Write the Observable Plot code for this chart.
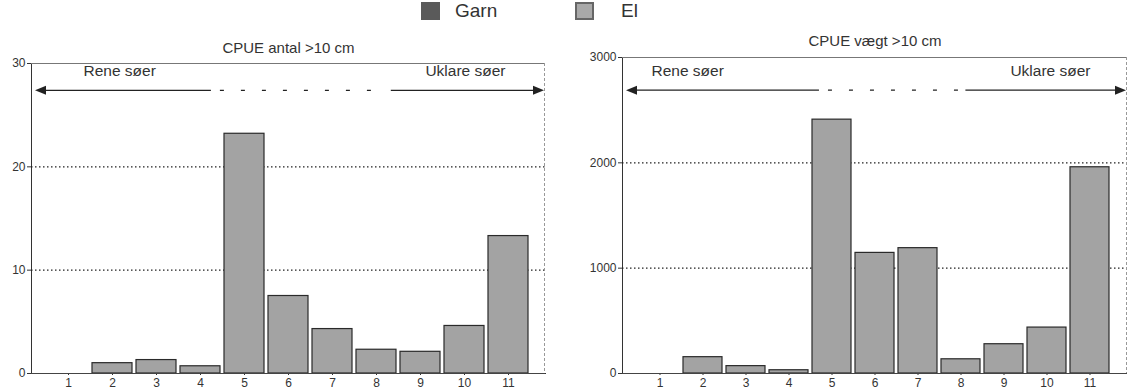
<!DOCTYPE html>
<html>
<head>
<meta charset="utf-8">
<script src="https://cdn.jsdelivr.net/npm/d3@7"></script>
<script src="https://cdn.jsdelivr.net/npm/@observablehq/plot@0.6"></script>
<style>
  html, body { margin: 0; padding: 0; background: white; }
  body { width: 1127px; height: 392px; overflow: hidden; font-family: "Liberation Sans", Arial, sans-serif; }
  #legend { position: relative; height: 24px; width: 1127px; }
  .sw { position: absolute; top: 2px; width: 19px; height: 18px; box-sizing: border-box; }
  .lt { position: absolute; top: 0px; font-size: 19px; color: #333; line-height: 22px; }
  #row { display: flex; }
  #row svg { display: block; }
</style>
</head>
<body>
<div id="legend">
  <div class="sw" style="left:421px;background:#5a5a5a;"></div>
  <div class="lt" style="left:455px;">Garn</div>
  <div class="sw" style="left:575px;background:#a9a9a9;border:2px solid #666;"></div>
  <div class="lt" style="left:621px;">El</div>
</div>
<div id="row"></div>
<script>
// ---- data ----
const lakes = [1, 2, 3, 4, 5, 6, 7, 8, 9, 10, 11];
const cpueAntal = [0, 1.0, 1.3, 0.7, 23.2, 7.5, 4.3, 2.3, 2.1, 4.6, 13.3];
const cpueVaegt = [0, 155, 70, 31, 2410, 1145, 1190, 135, 278, 436, 1958];
const antalTicks = [0, 10, 20, 30];
const vaegtTicks = [0, 1000, 2000, 3000];
const titles = ["CPUE antal >10 cm", "CPUE vægt >10 cm"];
const leftLabel = "Rene søer";
const rightLabel = "Uklare søer";

const font = "'Liberation Sans', Arial, sans-serif";

function decor(cfg) {
  return (index, scales, values, dimensions) => {
    const {width, height, marginLeft, marginRight, marginTop, marginBottom} = dimensions;
    const x0 = marginLeft, x1 = width - marginRight;
    const y0 = marginTop, y1 = height - marginBottom;
    const g = d3.create("svg:g");
    g.append("line").attr("x1", x0).attr("x2", x1).attr("y1", y0 + 0.5).attr("y2", y0 + 0.5)
      .attr("stroke", "#777").attr("stroke-width", 1.2);
    g.append("line").attr("x1", x1 - 0.5).attr("x2", x1 - 0.5).attr("y1", y0).attr("y2", y1)
      .attr("stroke", "#999").attr("stroke-dasharray", "3,2");
    const ay = y0 + (y1 - y0) * cfg.arrowFrac;
    const ax0 = x0 + 4, ax1 = x1 - 1;
    const w = x1 - x0;
    const d0 = x0 + w * cfg.dashFrom, d1 = x0 + w * cfg.dashTo;
    g.append("line").attr("x1", ax0 + 8).attr("x2", d0).attr("y1", ay).attr("y2", ay)
      .attr("stroke", "#222").attr("stroke-width", 1.3);
    g.append("line").attr("x1", d0 + 9).attr("x2", d1 - 4).attr("y1", ay).attr("y2", ay)
      .attr("stroke", "#222").attr("stroke-width", 1.3).attr("stroke-dasharray", "4,17");
    g.append("line").attr("x1", d1).attr("x2", ax1 - 8).attr("y1", ay).attr("y2", ay)
      .attr("stroke", "#222").attr("stroke-width", 1.3);
    g.append("path").attr("d", `M${ax0},${ay}L${ax0 + 11},${ay - 4.5}L${ax0 + 11},${ay + 4.5}Z`).attr("fill", "#222");
    g.append("path").attr("d", `M${ax1},${ay}L${ax1 - 11},${ay - 4.5}L${ax1 - 11},${ay + 4.5}Z`).attr("fill", "#222");
    return g.node();
  };
}

function panel(cfg) {
  const data = lakes.map((l, i) => ({lake: l, value: cfg.values[i]}));
  const yMax = cfg.ticks[cfg.ticks.length - 1];
  return Plot.plot({
    width: cfg.width,
    height: 368,
    marginLeft: cfg.marginLeft,
    marginRight: cfg.marginRight,
    marginTop: cfg.marginTop,
    marginBottom: 19,
    style: {fontFamily: font, fontSize: "12px", color: "#333", background: "white", overflow: "visible"},
    x: {type: "band", domain: lakes, paddingInner: 0.09, paddingOuter: 0.29, label: null, tickSize: 2, tickPadding: 3, line: true},
    y: {domain: [0, yMax], ticks: cfg.ticks, tickFormat: d => String(d), label: null, tickSize: 4, tickPadding: 2, line: true},
    marks: [
      Plot.ruleY(cfg.ticks.slice(1, -1), {stroke: "#222", strokeDasharray: "1.5,2.5", strokeWidth: 1.1}),
      decor(cfg),
      Plot.barY(data, {x: "lake", y: "value", fill: "#a3a3a3", stroke: "#2a2a2a", strokeWidth: 1.2}),
      Plot.ruleY([0], {stroke: "#444"}),
      Plot.text([leftLabel], {frameAnchor: "top-left", dx: cfg.leftDx, dy: cfg.labelDy, textAnchor: "start", fontSize: 15.5, fill: "#333"}),
      Plot.text([rightLabel], {frameAnchor: "top-right", dx: cfg.rightDx, dy: cfg.labelDy, textAnchor: "end", fontSize: 15.5, fill: "#333"}),
      Plot.text([cfg.title], {frameAnchor: "top", dy: cfg.titleDy, lineAnchor: "bottom", fontSize: 15, fill: "#333"})
    ]
  });
}

const row = document.getElementById("row");
row.appendChild(panel({
  values: cpueAntal, ticks: antalTicks, title: titles[0],
  width: 575, marginLeft: 31, marginRight: 30, marginTop: 39,
  arrowFrac: 0.088, dashFrom: 0.35, dashTo: 0.70,
  leftDx: 52, rightDx: -40, labelDy: 1, titleDy: -11
}));
row.appendChild(panel({
  values: cpueVaegt, ticks: vaegtTicks, title: titles[1],
  width: 552, marginLeft: 47, marginRight: 0, marginTop: 33,
  arrowFrac: 0.105, dashFrom: 0.39, dashTo: 0.68,
  leftDx: 29, rightDx: -37, labelDy: 7, titleDy: -12
}));
</script>
</body>
</html>
